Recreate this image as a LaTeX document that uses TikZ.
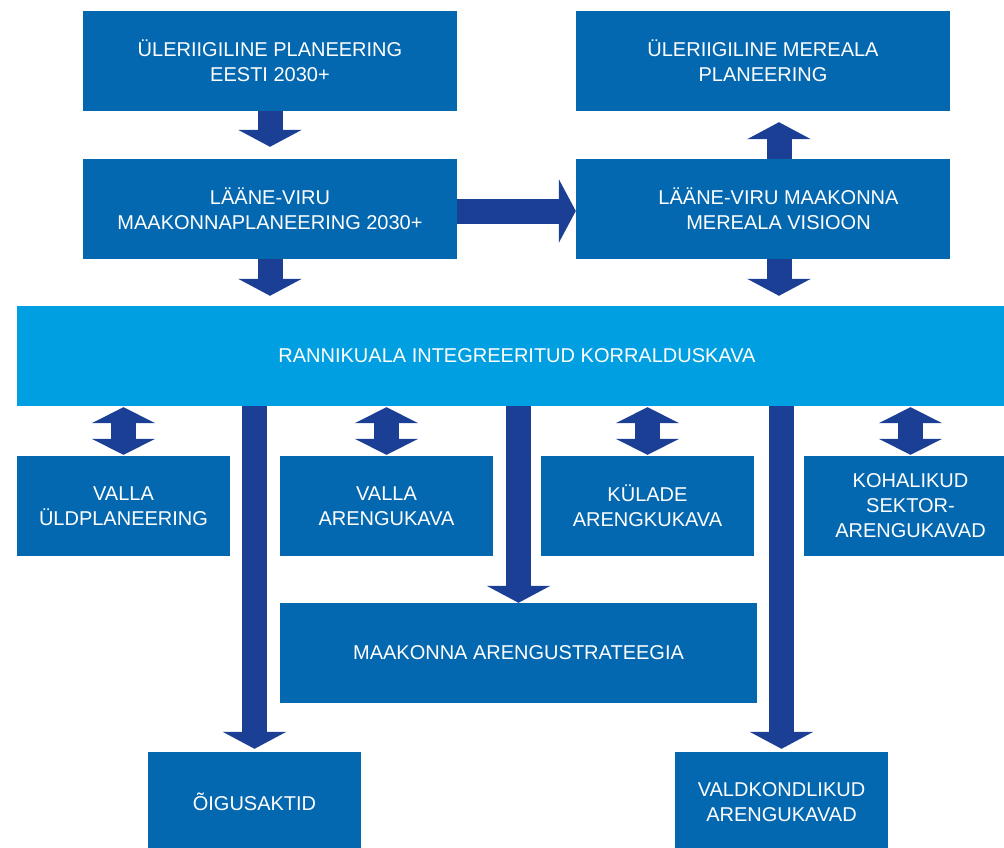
\documentclass[tikz,border=0pt]{standalone}
\usepackage{fontspec}
\setmainfont{Liberation Sans}
\usetikzlibrary{arrows.meta}
\definecolor{cbox}{HTML}{0468B1}
\definecolor{clight}{HTML}{009FE1}
\definecolor{carrow}{HTML}{1B3F94}
\tikzset{
  every picture/.style={x=1pt, y=-1pt},
  box/.style={fill=#1, text=white, align=center, inner sep=0pt, minimum height=100pt, font=\fontsize{20}{25}\selectfont},
  box/.default=cbox,
  arrow/.style={-{Triangle[length=17pt, width=63pt]}, draw=carrow, line width=25pt},
  twoway/.style={{Triangle[length=16pt, width=63pt]}-{Triangle[length=16pt, width=63pt]}, draw=carrow, line width=25pt},
}

\begin{document}
\begin{tikzpicture}
  \useasboundingbox (0,0) rectangle (1004,848);
  \clip (0,0) rectangle (1004,848);
  \node[box, minimum width=374pt] (eesti) at (270,61) {ÜLERIIGILINE PLANEERING\\EESTI 2030+};
  \node[box, minimum width=374pt] (meri) at (763,61) {ÜLERIIGILINE MEREALA\\PLANEERING};
  \node[box, minimum width=374pt] (mkp) at (270,209) {LÄÄNE-VIRU\\MAAKONNAPLANEERING 2030+};
  \node[box, minimum width=374pt] (visioon) at (763,209) {\hspace*{31pt}LÄÄNE-VIRU MAAKONNA\\\hspace*{31pt}MEREALA VISIOON};
  \node[box=clight, minimum width=1000pt] (ikk) at (517,356) {RANNIKUALA INTEGREERITUD KORRALDUSKAVA};
  \foreach \x/\n/\t in {123.5/yp/{VALLA\\ÜLDPLANEERING}, 386.5/vak/{VALLA\\ARENGUKAVA},
                        647.5/kak/{KÜLADE\\ARENGKUKAVA}, 910.5/sak/{KOHALIKUD\\SEKTOR-\\ARENGUKAVAD}} {
    \node[box, minimum width=213pt] (\n) at (\x,506) {\t};
    \draw[twoway, shorten <=1pt, shorten >=1pt] (\n.north |- ikk.south) -- (\n.north);
  }
  \node[box, minimum width=477pt] (strat) at (518.5,653) {MAAKONNA ARENGUSTRATEEGIA};
  \node[box, minimum width=213pt] (oigus) at (254.5,802) {ÕIGUSAKTID};
  \node[box, minimum width=213pt] (valdk) at (781.5,802) {VALDKONDLIKUD\\ARENGUKAVAD};
  % top part
  \draw[arrow, shorten >=12pt] (eesti) -- (mkp);
  \draw[arrow, shorten >=10pt] (mkp.south) -- (mkp.south |- ikk.north);
  \draw[arrow] ([yshift=-2pt]mkp.east) -- ([yshift=-2pt]visioon.west);
  \draw[arrow, shorten >=11pt] ([xshift=16pt]visioon.north) -- ([xshift=16pt]meri.south);
  \draw[arrow, shorten >=10pt] ([xshift=16pt]visioon.south) -- ([xshift=16pt]visioon.south |- ikk.north);
  % down from the bar
  \draw[arrow, shorten >=3pt] (oigus.north |- ikk.south) -- (oigus.north);
  \draw[arrow] (strat.north |- ikk.south) -- (strat.north);
  \draw[arrow, shorten >=3pt] (valdk.north |- ikk.south) -- (valdk.north);
\end{tikzpicture}
\end{document}
